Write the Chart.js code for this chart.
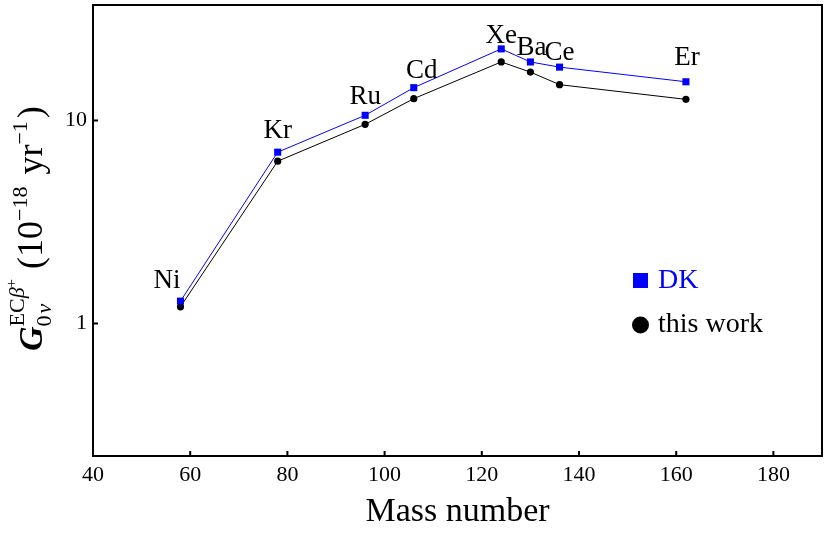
<!DOCTYPE html>
<html>
<head>
<meta charset="utf-8">
<script src="https://cdn.jsdelivr.net/npm/chart.js@4.4.0/dist/chart.umd.min.js"></script>
<style>
  html, body { margin: 0; padding: 0; background: #fff; }
  #wrap { width: 830px; height: 536px; }
</style>
</head>
<body>
<div id="wrap"><canvas id="chart" width="830" height="536"></canvas></div>
<script>
// nuclei and their mass numbers
var elements = ["Ni", "Kr", "Ru", "Cd", "Xe", "Ba", "Ce", "Er"];
var massNumbers = [58, 78, 96, 106, 124, 130, 136, 162];
// phase space factors, 10^-18 yr^-1
var dkValues = [1.29, 6.98, 10.6, 14.5, 22.5, 19.4, 18.3, 15.5];
var thisWorkValues = [1.21, 6.3, 9.57, 12.8, 19.4, 17.3, 15.0, 12.7];
var xTicks = [40, 60, 80, 100, 120, 140, 160, 180];
var yTicks = [1, 10];

// where each element name sits relative to the DK point (pixels)
var labelDx = [0, 0, 0, 8, 0, 1, 0, 1];
var labelDy = [13, 14, 11, 10, 6, 7, 7, 17];

var serif = "'Liberation Serif', 'DejaVu Serif', serif";

function toXY(xs, ys) {
    return xs.map(function (x, i) { return { x: x, y: ys[i] }; });
}

var decorPlugin = {
    id: 'decor',
    afterDraw: function (chart) {
        var ctx = chart.ctx;
        var a = chart.chartArea;
        var xs = chart.scales.x, ys = chart.scales.y;
        ctx.save();

        // frame
        ctx.strokeStyle = '#000';
        ctx.lineWidth = 2;
        ctx.strokeRect(a.left, a.top, a.right - a.left, a.bottom - a.top);

        // inward ticks
        ctx.beginPath();
        xTicks.forEach(function (v) {
            var px = xs.getPixelForValue(v);
            ctx.moveTo(px, a.bottom);
            ctx.lineTo(px, a.bottom - 5);
        });
        yTicks.forEach(function (v) {
            var py = ys.getPixelForValue(v);
            ctx.moveTo(a.left, py);
            ctx.lineTo(a.left + 5, py);
        });
        ctx.stroke();

        // element labels
        ctx.fillStyle = '#000';
        ctx.font = '27px ' + serif;
        ctx.textBaseline = 'alphabetic';
        elements.forEach(function (name, i) {
            var px = xs.getPixelForValue(massNumbers[i]);
            var py = ys.getPixelForValue(dkValues[i]);
            if (i === 0) {
                ctx.textAlign = 'right';
                ctx.fillText(name, px, py - labelDy[i]);
            } else {
                ctx.textAlign = 'center';
                ctx.fillText(name, px + labelDx[i], py - labelDy[i]);
            }
        });

        // legend
        ctx.textAlign = 'left';
        ctx.fillStyle = '#0000ff';
        ctx.fillRect(633, 273, 15, 15);
        ctx.font = '28px ' + serif;
        ctx.fillText('DK', 658, 288);
        ctx.fillStyle = '#000';
        ctx.beginPath();
        ctx.arc(640.5, 325, 8.5, 0, Math.PI * 2);
        ctx.fill();
        ctx.fillText('this work', 658, 332);

        // rotated y-axis title
        ctx.translate(42, 351);
        ctx.rotate(-Math.PI / 2);
        ctx.textAlign = 'left';
        var x = 0;
        function put(txt, font, dy) {
            ctx.font = font;
            ctx.fillText(txt, x, dy);
            return ctx.measureText(txt).width;
        }
        var big = '36px ' + serif;
        var small = '22px ' + serif;
        var tiny = '15px ' + serif;
        x += put('G', 'italic bold 34px ' + serif, 0);
        var start = x;
        var w1 = put('0', small, 9);
        x += w1;
        x += 2;
        var w2 = put('\u03BD', 'italic 22px ' + serif, 9);
        var subEnd = start + w1 + 2 + w2;
        x = start;
        x += put('EC', small, -18);
        x += put('\u03B2', 'italic 22px ' + serif, -18);
        x += put('+', tiny, -26);
        x = Math.max(x, subEnd) + 10;
        x += put('(10', big, 0);
        x += put('\u221218', small, -15);
        x += 12;
        x += put('yr', big, 0);
        x += put('\u22121', small, -15);
        x += 3;
        x += put(')', big, 0);

        ctx.restore();
    }
};

var ctx = document.getElementById('chart').getContext('2d');
var myChart = new Chart(ctx, {
    type: 'scatter',
    data: {
        datasets: [{
            label: 'DK',
            data: toXY(massNumbers, dkValues),
            showLine: true,
            borderColor: '#0000ff',
            backgroundColor: '#0000ff',
            borderWidth: 1,
            pointStyle: 'rect',
            pointRadius: 5,
            pointBorderWidth: 0
        }, {
            label: 'this work',
            data: toXY(massNumbers, thisWorkValues),
            showLine: true,
            borderColor: '#000000',
            backgroundColor: '#000000',
            borderWidth: 1,
            pointStyle: 'circle',
            pointRadius: 3.6,
            pointBorderWidth: 0
        }]
    },
    options: {
        responsive: false,
        animation: false,
        events: [],
        layout: { padding: { top: 2, right: 8, left: 0, bottom: 0 } },
        plugins: {
            legend: { display: false },
            tooltip: { enabled: false }
        },
        scales: {
            x: {
                type: 'linear',
                min: 40,
                max: 190,
                afterBuildTicks: function (scale) {
                    scale.ticks = xTicks.map(function (v) { return { value: v }; });
                },
                afterFit: function (scale) {
                    scale.height = 80;
                    scale.paddingLeft = 0;
                    scale.paddingRight = 0;
                },
                grid: { display: false, drawTicks: false },
                border: { display: false },
                ticks: {
                    color: '#000',
                    padding: 6,
                    maxRotation: 0,
                    font: { family: serif, size: 22 }
                },
                title: {
                    display: true,
                    text: 'Mass number',
                    color: '#000',
                    padding: { top: 10 },
                    font: { family: serif, size: 34 }
                }
            },
            y: {
                type: 'logarithmic',
                min: 0.223,
                max: 37,
                afterBuildTicks: function (scale) {
                    scale.ticks = yTicks.map(function (v) { return { value: v }; });
                },
                afterFit: function (scale) {
                    scale.width = 93;
                    scale.paddingTop = 0;
                    scale.paddingBottom = 0;
                },
                grid: { display: false, drawTicks: false },
                border: { display: false },
                ticks: {
                    color: '#000',
                    padding: 6,
                    font: { family: serif, size: 22 },
                    callback: function (v) { return String(v); }
                }
            }
        }
    },
    plugins: [decorPlugin]
});
</script>
</body>
</html>
